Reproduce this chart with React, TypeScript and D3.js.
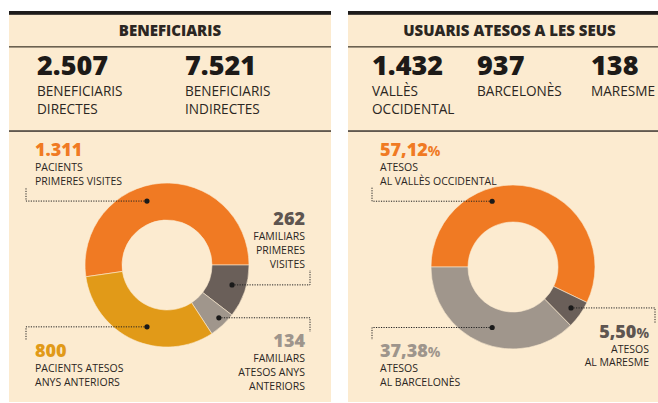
import React from "react";
import * as d3 from "d3";

// ---- Data ----
const beneficiarisNumbers = ["2.507", "7.521"];
const beneficiarisLabels = [["BENEFICIARIS", "DIRECTES"], ["BENEFICIARIS", "INDIRECTES"]];

const seusNumbers = ["1.432", "937", "138"];
const seusLabels = [["VALLÈS", "OCCIDENTAL"], ["BARCELONÈS"], ["MARESME"]];

const leftCategories = ["PACIENTS PRIMERES VISITES", "FAMILIARS PRIMERES VISITES", "FAMILIARS ATESOS ANYS ANTERIORS", "PACIENTS ATESOS ANYS ANTERIORS"];
const leftValues = [1311, 262, 134, 800];
const leftValueLabels = ["1.311", "262", "134", "800"];
const leftLabelLines = [["PACIENTS", "PRIMERES VISITES"], ["FAMILIARS", "PRIMERES", "VISITES"], ["FAMILIARS", "ATESOS ANYS", "ANTERIORS"], ["PACIENTS ATESOS", "ANYS ANTERIORS"]];

const rightCategories = ["VALLÈS OCCIDENTAL", "MARESME", "BARCELONÈS"];
const rightValues = [57.12, 5.5, 37.38];
const rightValueLabels = ["57,12", "5,50", "37,38"];
const rightLabelLines = [["ATESOS", "AL VALLÈS OCCIDENTAL"], ["ATESOS", "AL MARESME"], ["ATESOS", "AL BARCELONÈS"]];

// ---- Styles ----
const W = 658, H = 403;
const BG = "#fcebd0";
const ORANGE = "#f07a23";
const GOLD = "#e19a18";
const DARK = "#6a5f59";
const LIGHT = "#a0968c";
const TEXT = "#2b2622";
const FONT = "'Open Sans', 'Noto Sans', sans-serif";

const leftColors = [ORANGE, DARK, LIGHT, GOLD];
const leftNumColors = [ORANGE, "#5e5550", "#9e958c", GOLD];
const rightColors = [ORANGE, DARK, LIGHT];
const rightNumColors = [ORANGE, "#5e5550", "#9e958c"];

type Ann = { angle: number; r: number; elbowX: number; endY: number; textX: number; numY: number; anchor: "start" | "end"; lineGap: number };

const leftAnn: Ann[] = [
  { angle: -17.4, r: 67, elbowX: 26, endY: 187, textX: 35, numY: 156, anchor: "start", lineGap: 14 },
  { angle: 107, r: 68, elbowX: 310, endY: 270, textX: 305, numY: 225, anchor: "end", lineGap: 14 },
  { angle: 135.5, r: 74, elbowX: 310, endY: 332, textX: 305, numY: 347, anchor: "end", lineGap: 14 },
  { angle: 197.9, r: 65, elbowX: 26, endY: 340, textX: 35, numY: 357, anchor: "start", lineGap: 14 },
];
const rightAnn: Ann[] = [
  { angle: -17.6, r: 69, elbowX: 372, endY: 187, textX: 380, numY: 156, anchor: "start", lineGap: 14 },
  { angle: 125.2, r: 71, elbowX: 655, endY: 323, textX: 649, numY: 338, anchor: "end", lineGap: 13.5 },
  { angle: 199, r: 64, elbowX: 372, endY: 340, textX: 380, numY: 357, anchor: "start", lineGap: 14 },
];

function Donut({ cx, cy, values, colors, startAngle, ann, valueLabels, numColors, lines, pct }: any) {
  const pie = d3.pie<number>().sort(null).value((d) => d).startAngle(startAngle).endAngle(startAngle + 2 * Math.PI);
  const arc = d3.arc<d3.PieArcDatum<number>>().innerRadius(45).outerRadius(82);
  const arcs = pie(values);
  return (
    <g>
      <g transform={`translate(${cx},${cy})`}>
        {arcs.map((a, i) => (
          <path key={i} d={arc(a) as string} fill={colors[i]} stroke={BG} strokeWidth={0.6} />
        ))}
      </g>
      {ann.map((an: Ann, i: number) => {
        const t = (an.angle * Math.PI) / 180;
        const dx = cx + an.r * Math.sin(t);
        const dy = cy - an.r * Math.cos(t);
        const textFirstLine = an.numY + 14.5;
        return (
          <g key={i}>
            <path d={`M${dx},${dy}H${an.elbowX}V${an.endY}`} fill="none" stroke="#222" strokeWidth={1} strokeDasharray="1.2,1.3" />
            <circle cx={dx} cy={dy} r={2.6} fill="#1a1a1a" />
            <text x={an.textX} y={an.numY} textAnchor={an.anchor} fontFamily={FONT} fontWeight={800} fontSize={18} fill={numColors[i]}>
              {valueLabels[i]}
              {pct && <tspan fontSize={14} fontWeight={700}>%</tspan>}
            </text>
            {lines[i].map((l: string, j: number) => (
              <text key={j} x={an.textX} y={textFirstLine + j * an.lineGap} textAnchor={an.anchor} fontFamily={FONT} fontSize={10.5} fill={TEXT}>
                {l}
              </text>
            ))}
          </g>
        );
      })}
    </g>
  );
}

export default function App() {
  const leftStart = Math.PI / 2 - (2 * Math.PI * leftValues[0]) / d3.sum(leftValues);
  const rightStart = -Math.PI / 2;
  const panels = [
    { x0: 9, x1: 331, title: "BENEFICIARIS", cx: 170 },
    { x0: 348, x1: 671, title: "USUARIS ATESOS A LES SEUS", cx: 509.5 },
  ];
  const bNumX = [37, 185];
  const sNumX = [372, 477, 591];
  return (
    <svg width={W} height={H} style={{ position: "absolute", left: 0, top: 0 }}>
      <rect width={W} height={H} fill="#fff" />
      {panels.map((p, i) => (
        <g key={i}>
          <rect x={p.x0} y={11} width={p.x1 - p.x0} height={391} fill={BG} />
          <rect x={p.x0} y={11} width={p.x1 - p.x0} height={3.8} fill="#1e1c1b" />
          <rect x={p.x0} y={46} width={p.x1 - p.x0} height={1.6} fill="#6b6150" />
          <rect x={p.x0} y={130.3} width={p.x1 - p.x0} height={1.5} fill="#3b3530" />
          <text x={p.cx} y={35.5} textAnchor="middle" fontFamily={FONT} fontWeight={800} fontSize={15} fill={TEXT}>
            {p.title}
          </text>
        </g>
      ))}
      {beneficiarisNumbers.map((n, i) => (
        <g key={"b" + i}>
          <text x={bNumX[i]} y={74.5} fontFamily={FONT} fontWeight={800} fontSize={27} fill="#1d1a18">{n}</text>
          {beneficiarisLabels[i].map((l, j) => (
            <text key={j} x={bNumX[i]} y={95.5 + j * 18} fontFamily={FONT} fontSize={13.6} fill={TEXT}>{l}</text>
          ))}
        </g>
      ))}
      {seusNumbers.map((n, i) => (
        <g key={"s" + i}>
          <text x={sNumX[i]} y={74.5} fontFamily={FONT} fontWeight={800} fontSize={27} fill="#1d1a18">{n}</text>
          {seusLabels[i].map((l, j) => (
            <text key={j} x={sNumX[i]} y={95.5 + j * 18} fontFamily={FONT} fontSize={13.6} fill={TEXT}>{l}</text>
          ))}
        </g>
      ))}
      <Donut cx={167} cy={265} values={leftValues} colors={leftColors} startAngle={leftStart} ann={leftAnn}
        valueLabels={leftValueLabels} numColors={leftNumColors} lines={leftLabelLines} pct={false} />
      <Donut cx={513} cy={267} values={rightValues} colors={rightColors} startAngle={rightStart} ann={rightAnn}
        valueLabels={rightValueLabels} numColors={rightNumColors} lines={rightLabelLines} pct={true} />
    </svg>
  );
}
